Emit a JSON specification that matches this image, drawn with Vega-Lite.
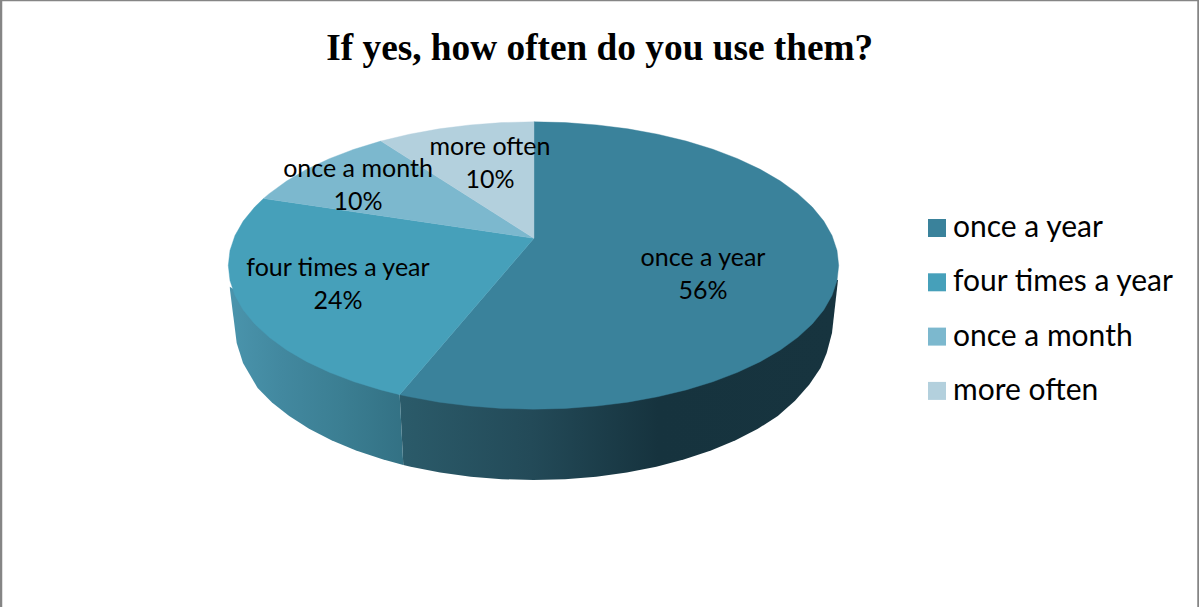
{
  "$schema": "https://vega.github.io/schema/vega-lite/v6.json",
  "autosize": "none",
  "padding": {"left": 1, "top": 0, "right": 0, "bottom": 0},
  "width": 1197.5,
  "height": 620,
  "background": "white",
  "view": {"stroke": "#858585", "strokeWidth": 2.5},
  "title": {
    "text": "If yes, how often do you use them?",
    "font": "Liberation Serif",
    "fontWeight": "bold",
    "fontSize": 37.3,
    "color": "#000000",
    "anchor": "middle",
    "dy": 72,
    "dx": 0
  },
  "projection": {"type": "identity", "reflectY": true, "scale": 3.052, "translate": [532.5, 265.5]},
  "layer": [
    {
      "data": {"values": [
        {"type": "Feature", "properties": {"wall": "once a year"}, "geometry": {"type": "Polygon", "coordinates": [[[99.77,-4.75],[97.8,-22.12],[96.07,-28.67],[94.04,-33.58],[90.39,-39],[85.69,-44.3],[80.05,-49.35],[73.53,-53.48],[66.21,-57.24],[58.16,-60.59],[49.48,-63.48],[40.25,-65.9],[30.58,-67.81],[20.57,-69.18],[10.34,-70.01],[0,-70.29],[-10.34,-70.01],[-20.57,-69.18],[-30.58,-67.81],[-40.25,-65.9],[-42.66,-65.38],[-43.84,-42.32],[0,0],[99.77,-4.75]]]}}
      ]},
      "mark": {
        "type": "geoshape",
        "stroke": null,
        "fill": {
          "gradient": "linear", "x1": 0, "x2": 1, "y1": 0, "y2": 0,
          "stops": [
            {"offset": 0, "color": "#2b5b6a"},
            {"offset": 0.3, "color": "#234a58"},
            {"offset": 0.59, "color": "#16333e"},
            {"offset": 1, "color": "#17343f"}
          ]
        }
      }
    },
    {
      "data": {"values": [
        {"type": "Feature", "properties": {"wall": "four times a year"}, "geometry": {"type": "Polygon", "coordinates": [[[-42.66,-65.38],[-49.48,-63.48],[-58.16,-60.59],[-66.21,-57.24],[-73.53,-53.48],[-80.05,-49.35],[-85.69,-44.9],[-90.39,-40.16],[-95.18,-31.95],[-97.25,-25.39],[-99.44,-8.03],[-99.5,-7],[-43.84,-42.32],[-42.66,-65.38]]]}}
      ]},
      "mark": {
        "type": "geoshape",
        "stroke": null,
        "fill": {
          "gradient": "linear", "x1": 0, "x2": 1, "y1": 0, "y2": 0,
          "stops": [
            {"offset": 0, "color": "#4a94ac"},
            {"offset": 0.3, "color": "#42889f"},
            {"offset": 0.65, "color": "#3b7e92"},
            {"offset": 1, "color": "#337184"}
          ]
        }
      }
    },
    {
      "data": {"values": [
        {"type": "Feature", "properties": {"slice": "once a year", "share": 56}, "geometry": {"type": "Polygon", "coordinates": [[[0.16,8.91],[0.16,47.08],[10.45,46.82],[20.79,46.05],[30.9,44.78],[40.67,43.01],[50,40.77],[58.78,38.09],[66.91,34.99],[74.31,31.5],[80.9,27.67],[86.6,23.54],[91.35,19.15],[95.11,14.55],[97.81,9.79],[99.45,4.92],[100,0],[99.45,-4.92],[97.81,-9.79],[95.11,-14.55],[91.35,-19.15],[86.6,-23.54],[80.9,-27.67],[74.31,-31.5],[66.91,-34.99],[58.78,-38.09],[50,-40.77],[40.67,-43.01],[30.9,-44.78],[20.79,-46.05],[10.45,-46.82],[0,-47.08],[-10.45,-46.82],[-20.79,-46.05],[-30.9,-44.78],[-40.67,-43.01],[-43.84,-42.32],[0.16,8.91]]]}},
        {"type": "Feature", "properties": {"slice": "four times a year", "share": 24}, "geometry": {"type": "Polygon", "coordinates": [[[0.16,8.91],[-43.84,-42.32],[-50,-40.77],[-58.78,-38.09],[-66.91,-34.99],[-74.31,-31.5],[-80.9,-27.67],[-86.6,-23.54],[-91.35,-19.15],[-95.11,-14.55],[-97.81,-9.79],[-99.45,-4.92],[-100,0],[-99.45,4.92],[-97.81,9.79],[-95.11,14.55],[-91.35,19.15],[-88.46,21.96],[0.16,8.91]]]}},
        {"type": "Feature", "properties": {"slice": "once a month", "share": 10}, "geometry": {"type": "Polygon", "coordinates": [[[0.16,8.91],[-88.46,21.96],[-86.6,23.54],[-80.9,27.67],[-74.31,31.5],[-66.91,34.99],[-58.78,38.09],[-50,40.77],[0.16,8.91]]]}},
        {"type": "Feature", "properties": {"slice": "more often", "share": 10}, "geometry": {"type": "Polygon", "coordinates": [[[0.16,8.91],[-50,40.77],[-40.67,43.01],[-30.9,44.78],[-20.79,46.05],[-10.45,46.82],[0,47.08],[0.16,47.08],[0.16,8.91]]]}}
      ]},
      "mark": {"type": "geoshape", "strokeWidth": 0.4},
      "encoding": {
        "color": {
          "field": "properties.slice",
          "type": "nominal",
          "scale": {
            "domain": ["once a year", "four times a year", "once a month", "more often"],
            "range": ["#3a829b", "#46a0ba", "#7cb8ce", "#b3d0dd"]
          },
          "legend": {
            "title": null,
            "orient": "none",
            "legendX": 921,
            "legendY": 213,
            "symbolType": "square",
            "symbolSize": 324,
            "symbolStrokeWidth": 0,
            "labelFont": "Lato",
            "labelFontSize": 30,
            "labelColor": "#000000",
            "labelOffset": 1,
            "labelLimit": 300,
            "rowPadding": 24.3
          }
        },
        "stroke": {
          "field": "properties.slice",
          "type": "nominal",
          "scale": {
            "domain": ["once a year", "four times a year", "once a month", "more often"],
            "range": ["#3a829b", "#46a0ba", "#7cb8ce", "#b3d0dd"]
          },
          "legend": null
        }
      }
    },
    {
      "data": {"values": [
        {"slice": "once a year", "share": 56, "label": "once a year\n56%", "lon": 55.54, "lat": 2.45},
        {"slice": "four times a year", "share": 24, "label": "four times a year\n24%", "lon": -64.06, "lat": -0.83},
        {"slice": "once a month", "share": 10, "label": "once a month\n10%", "lon": -57.5, "lat": 31.6},
        {"slice": "more often", "share": 10, "label": "more often\n10%", "lon": -14.25, "lat": 38.98}
      ]},
      "mark": {
        "type": "text",
        "font": "Lato",
        "fontSize": 25,
        "color": "#000000",
        "align": "center",
        "baseline": "middle",
        "lineBreak": "\n",
        "lineHeight": 33
      },
      "encoding": {
        "longitude": {"field": "lon", "type": "quantitative"},
        "latitude": {"field": "lat", "type": "quantitative"},
        "text": {"field": "label", "type": "nominal"}
      }
    }
  ]
}
